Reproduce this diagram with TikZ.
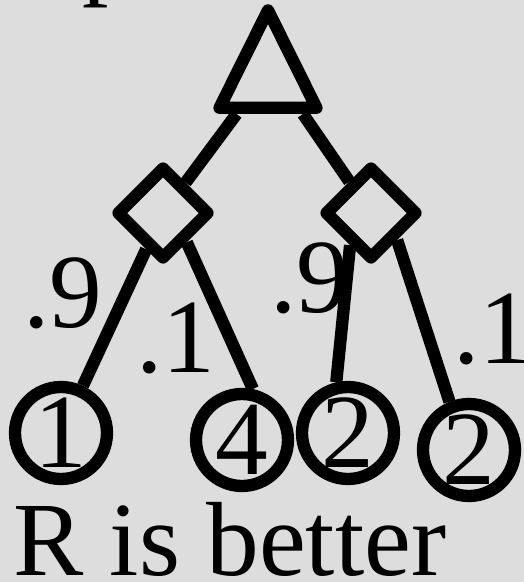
\documentclass[tikz,border=0pt]{standalone}
\usepackage{fontspec}
\setmainfont{Liberation Serif}
\usetikzlibrary{positioning,shapes.geometric}
\definecolor{bggray}{RGB}{221,221,221}

\begin{document}
\begin{tikzpicture}[x=0.02cm, y=-0.02cm, line width=7pt, line join=round,
  big/.style={font=\fontsize{60}{62}\selectfont},
  choice/.style={isosceles triangle, isosceles triangle stretches, shape border rotate=90, draw, minimum width=1.94cm, minimum height=1.95cm, inner sep=0pt},
  chance/.style={diamond, draw, minimum size=1.88cm, inner sep=0pt},
  leaf/.style={circle, draw, minimum size=1.84cm, inner sep=0pt, big},
  prob/.style={anchor=base west, inner sep=0pt, big}]

\fill[bggray] (0,0) rectangle (524,582);
\useasboundingbox (0,0) rectangle (524,582);

\node[prob] (title) at (76,-15) {p};
\node[choice, anchor=south] (root) at (268,114) {};
\node[chance] (dL) at (163,213) {};
\node[chance] (dR) at (371,213) {};
\node[leaf] (c1) at (61,433) {1};
\node[leaf] (c4) at (242,440) {4};
\node[leaf] (c2a) at (348,433) {2};
\node[leaf] (c2b) at (469,450) {2};

\node[prob] (pL9) at (17,327) {.9};
\node[prob] (pL1) at (130,372) {.1};
\node[prob] (pR9) at (264,312) {.9};
\node[prob] (pR1) at (447,363) {.1};
\node[prob] (verdict) at (7,575) {R is better};

\path
 (root.-131) edge (dL)
 (root.-46) edge (dR)
 (dL) edge (c1)
 (dL.-51) edge (c4.78)
 (dR.-123) edge (c2a.103)
 (dR.-46) edge (c2b.112);
\end{tikzpicture}
\end{document}
